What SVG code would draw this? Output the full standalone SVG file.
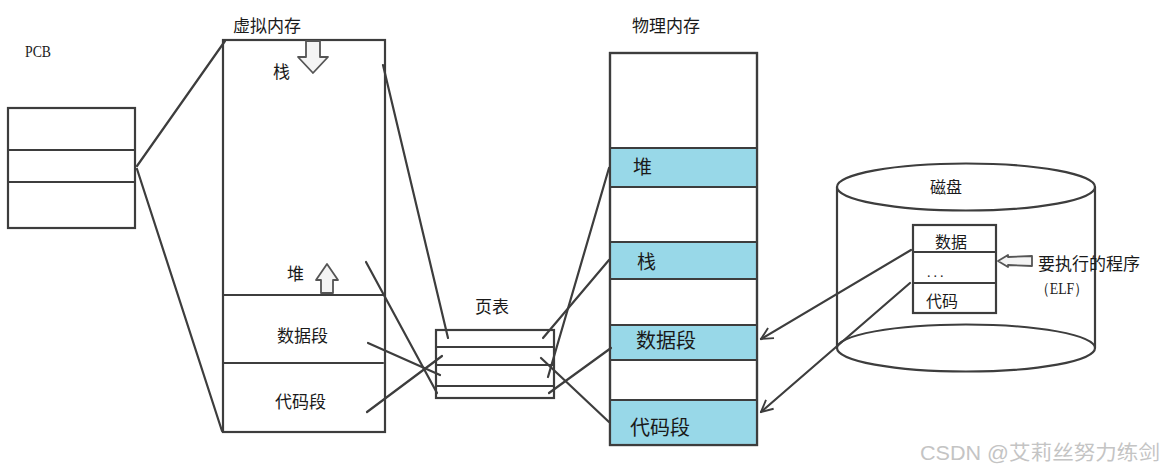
<svg xmlns="http://www.w3.org/2000/svg" width="1168" height="472" viewBox="0 0 1168 472">
<style>
.ln{stroke:#3d3d3d;stroke-width:2.2;fill:none;stroke-linecap:round}
.box{stroke:#3d3d3d;stroke-width:2.2;fill:#fff}
.band{fill:#98d8e8}
.cj{font-family:"Noto Sans CJK SC","Noto Sans",sans-serif;fill:#1a1a1a}
.ser{font-family:"Liberation Serif",serif;fill:#1a1a1a}
.fat{fill:#f4f4f4;stroke:#555;stroke-width:1.8;stroke-linejoin:round}
</style>
<defs>
<marker id="open" viewBox="0 0 12 12" refX="11" refY="6" markerWidth="14" markerHeight="14" markerUnits="userSpaceOnUse" orient="auto">
<path d="M1,1 L11,6 L1,11" fill="none" stroke="#3d3d3d" stroke-width="1.6"/>
</marker>
</defs>
<rect width="1168" height="472" fill="#fff"/>

<g id="pcb">
<text class="ser" x="25" y="57" font-size="16" textLength="26" lengthAdjust="spacingAndGlyphs">PCB</text>
<rect class="box" x="8" y="108" width="127" height="120"/>
<line class="ln" x1="8" y1="150" x2="135" y2="150"/>
<line class="ln" x1="8" y1="182" x2="135" y2="182"/>
</g>

<g id="virtual-memory">
<text class="cj" x="233" y="32" font-size="17">虚拟内存</text>
<rect class="box" x="223" y="40" width="162" height="392"/>
<line class="ln" x1="223" y1="295" x2="383" y2="295"/>
<line class="ln" x1="223" y1="363" x2="383" y2="363"/>
<text class="cj" x="273" y="78" font-size="17">栈</text>
<polygon class="fat" points="306,41 320,41 320,57 328,57 313,73 298,57 306,57"/>
<text class="cj" x="287" y="280" font-size="17">堆</text>
<polygon class="fat" points="321,293 333,293 333,280 338,280 327,264 316,280 321,280"/>
<text class="cj" x="277" y="342" font-size="17">数据段</text>
<text class="cj" x="275" y="408" font-size="17">代码段</text>
</g>

<g id="page-table">
<text class="cj" x="475" y="313" font-size="17">页表</text>
<rect class="box" x="436" y="330" width="118" height="68"/>
<line class="ln" x1="436" y1="347" x2="554" y2="347"/>
<line class="ln" x1="436" y1="365" x2="554" y2="365"/>
<line class="ln" x1="436" y1="386" x2="554" y2="386"/>
</g>

<g id="physical-memory">
<text class="cj" x="632" y="32" font-size="17">物理内存</text>
<rect class="box" x="610" y="53" width="147" height="392"/>
<rect class="band" x="611" y="148" width="145" height="39"/>
<rect class="band" x="611" y="242" width="145" height="36"/>
<rect class="band" x="611" y="325" width="145" height="35"/>
<rect class="band" x="611" y="400" width="145" height="44"/>
<line class="ln" x1="610" y1="148" x2="757" y2="148"/>
<line class="ln" x1="610" y1="187" x2="757" y2="187"/>
<line class="ln" x1="610" y1="242" x2="757" y2="242"/>
<line class="ln" x1="610" y1="279" x2="757" y2="279"/>
<line class="ln" x1="610" y1="325" x2="757" y2="325"/>
<line class="ln" x1="610" y1="360" x2="757" y2="360"/>
<line class="ln" x1="610" y1="400" x2="757" y2="400"/>
<rect x="610" y="53" width="147" height="392" fill="none" stroke="#3d3d3d" stroke-width="2.2"/>
<text class="cj" x="633" y="174" font-size="19">堆</text>
<text class="cj" x="637" y="269" font-size="19">栈</text>
<text class="cj" x="636" y="348" font-size="20">数据段</text>
<text class="cj" x="630" y="435" font-size="20">代码段</text>
</g>

<g id="disk">
<path class="ln" d="M837,187 L837,348 M1095,187 L1095,348"/>
<ellipse cx="966" cy="187" rx="129" ry="23.5" fill="#fff" stroke="#3d3d3d" stroke-width="2.2"/>
<path class="ln" d="M837,348 A129,23.5 0 0 0 1095,348"/>
<path d="M837,348 A129,23.5 0 0 1 1095,348" fill="none" stroke="#3d3d3d" stroke-width="2"/>
<text class="cj" x="930" y="193" font-size="16">磁盘</text>
<rect class="box" x="913" y="225" width="83" height="88"/>
<line class="ln" x1="913" y1="252" x2="996" y2="252"/>
<line class="ln" x1="913" y1="283" x2="996" y2="283"/>
<text class="cj" x="935" y="248" font-size="16">数据</text>
<text class="ser" x="927" y="277" font-size="14" letter-spacing="3">...</text>
<text class="cj" x="926" y="307" font-size="16">代码</text>
</g>

<g id="program-label">
<polygon class="fat" points="998,261 1008,255 1008,257 1032,256 1032,266 1008,265 1008,267"/>
<text class="cj" x="1038" y="270" font-size="17">要执行的程序</text>
<text class="ser" x="1036" y="294" font-size="16" textLength="52" lengthAdjust="spacingAndGlyphs">（ELF）</text>
</g>

<g id="connectors">
<line class="ln" x1="137" y1="166" x2="225" y2="41"/>
<line class="ln" x1="137" y1="169" x2="222" y2="431"/>
<line class="ln" x1="383" y1="65" x2="448" y2="338"/>
<line class="ln" x1="366" y1="262" x2="437" y2="393"/>
<line class="ln" x1="368" y1="343" x2="440" y2="375"/>
<line class="ln" x1="367" y1="412" x2="442" y2="356"/>
<line class="ln" x1="543" y1="338" x2="609" y2="260"/>
<line class="ln" x1="548" y1="377" x2="609" y2="168"/>
<line class="ln" x1="549" y1="393" x2="611" y2="348"/>
<line class="ln" x1="541" y1="358" x2="609" y2="422"/>
<line class="ln" x1="911" y1="250" x2="761" y2="339" marker-end="url(#open)"/>
<line class="ln" x1="910" y1="283" x2="761" y2="412" marker-end="url(#open)"/>
</g>

<text x="920" y="460" font-family="Liberation Sans,'Noto Sans CJK SC',sans-serif" font-size="20" textLength="240" lengthAdjust="spacingAndGlyphs" fill="#c4c4c4">CSDN @艾莉丝努力练剑</text>
</svg>
